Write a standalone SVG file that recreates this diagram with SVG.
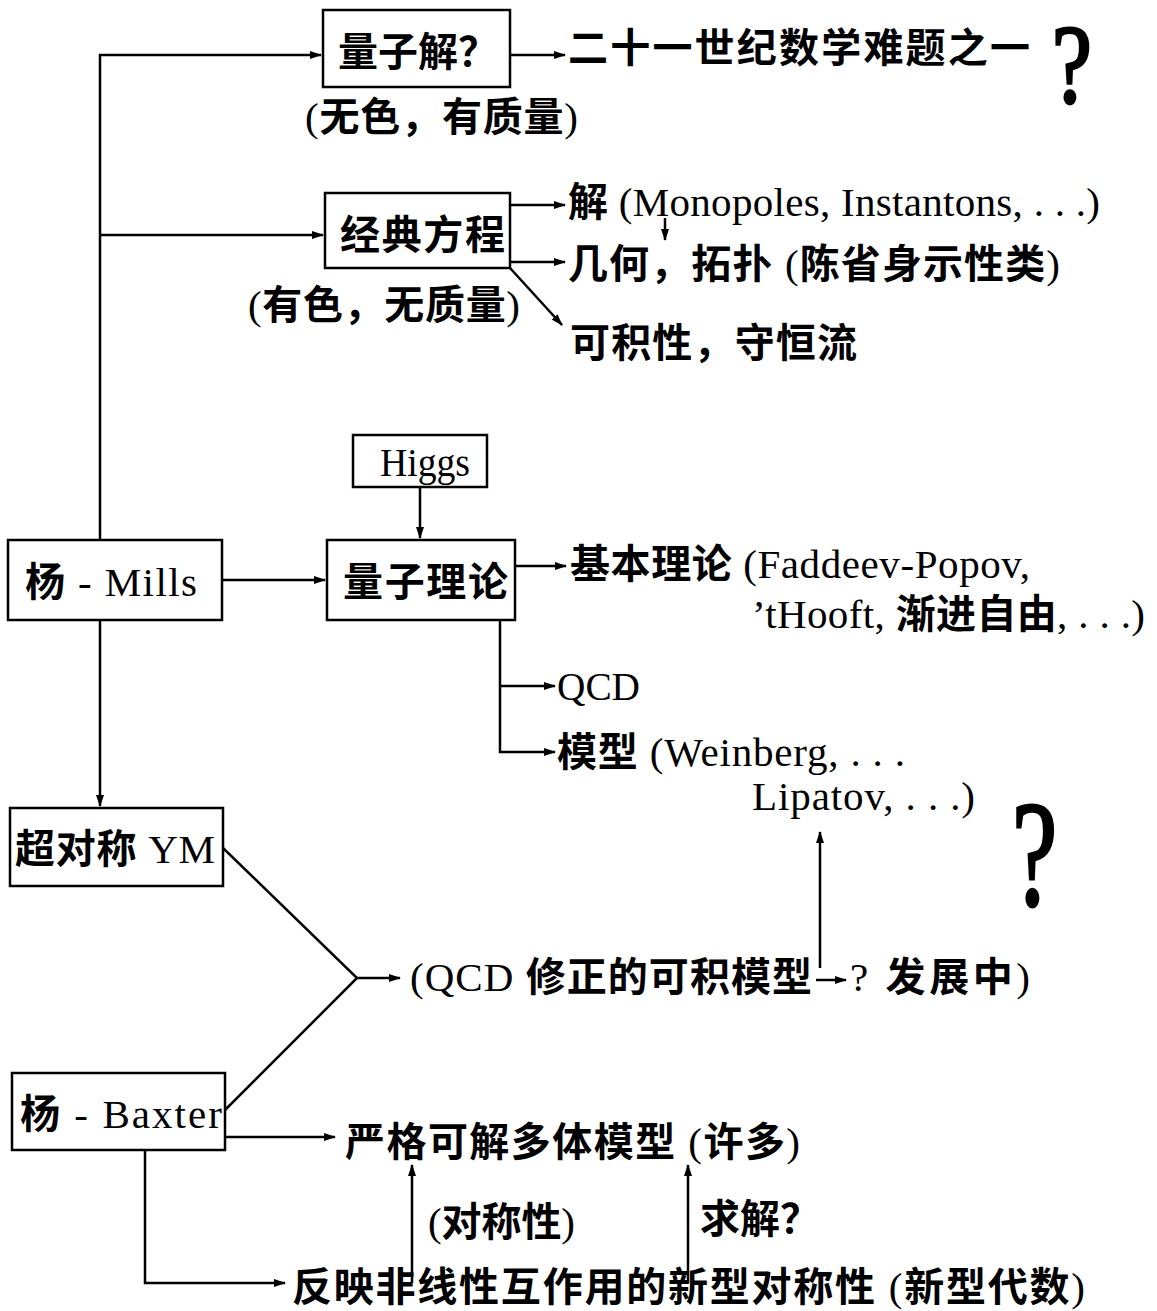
<svg xmlns="http://www.w3.org/2000/svg" width="1157" height="1311" viewBox="0 0 1157 1311">
<style>
text{font-family:"Liberation Serif","Noto Sans CJK SC",serif;font-size:41px;fill:#000}
.c{font-family:"Noto Sans CJK SC","Liberation Serif",sans-serif;font-weight:700;font-size:40px}
.box{fill:#fff;stroke:#000;stroke-width:2.5}
.ln{fill:none;stroke:#000;stroke-width:2.5}
.q{font-family:"Liberation Serif",serif;font-size:112px;stroke:#000;stroke-width:3}
.q2{font-size:150px}
</style>
<defs>
<marker id="ah" markerUnits="userSpaceOnUse" markerWidth="12" markerHeight="8" refX="11" refY="4" orient="auto">
<path d="M0,0 L12,4 L0,8 z" fill="#000"/>
</marker>
</defs>
<rect width="1157" height="1311" fill="#fff"/>
<g id="connectors">
<path class="ln" d="M100,540 L100,55 L321,55" marker-end="url(#ah)"/>
<path class="ln" d="M100,235 L323,235" marker-end="url(#ah)"/>
<path class="ln" d="M510,55 L565,55" marker-end="url(#ah)"/>
<path class="ln" d="M510,205 L565,205" marker-end="url(#ah)"/>
<path class="ln" d="M510,262 L565,262" marker-end="url(#ah)"/>
<path class="ln" d="M510,268 L562,325" marker-end="url(#ah)"/>
<path class="ln" d="M665,218 L665,240" stroke-width="2" marker-end="url(#ah)"/>
<path class="ln" d="M420,487 L420,538" marker-end="url(#ah)"/>
<path class="ln" d="M222,580 L325,580" marker-end="url(#ah)"/>
<path class="ln" d="M515,566 L566,566" marker-end="url(#ah)"/>
<path class="ln" d="M500,620 L500,752 L555,752" marker-end="url(#ah)"/>
<path class="ln" d="M500,686 L555,686" marker-end="url(#ah)"/>
<path class="ln" d="M100,620 L100,806" marker-end="url(#ah)"/>
<path class="ln" d="M223,848 L357,978 L225,1110"/>
<path class="ln" d="M357,978 L400,978" marker-end="url(#ah)"/>
<path class="ln" d="M820,968 L820,832" marker-end="url(#ah)"/>
<path class="ln" d="M816,980 L846,980" stroke-width="2" marker-end="url(#ah)"/>
<path class="ln" d="M225,1137 L335,1137" marker-end="url(#ah)"/>
<path class="ln" d="M145,1150 L145,1283 L285,1283" marker-end="url(#ah)"/>
<path class="ln" d="M412,1283 L412,1165" marker-end="url(#ah)"/>
<path class="ln" d="M688,1283 L688,1165" marker-end="url(#ah)"/>
</g>
<g id="n_quantum_sol">
<rect class="box" x="323" y="10" width="187" height="77"/>
<text class="c" x="338" y="66">量子解？</text>
</g>
<g id="n_millennium">
<text class="c" x="568" y="62" textLength="462" lengthAdjust="spacing">二十一世纪数学难题之一</text>
</g>
<g id="n_q1"><text class="q" x="0" y="102" transform="translate(1052,0) scale(0.8,1)">?</text></g>
<g id="n_colorless"><text x="305" y="131" textLength="273" lengthAdjust="spacing"><tspan>(</tspan><tspan class="c">无色，有质量</tspan><tspan>)</tspan></text></g>
<g id="n_classical">
<rect class="box" x="325" y="193" width="185" height="75"/>
<text class="c" x="340" y="249" textLength="165" lengthAdjust="spacing">经典方程</text>
</g>
<g id="n_solutions"><text x="568" y="216" textLength="532" lengthAdjust="spacing"><tspan class="c">解</tspan><tspan> (Monopoles, Instantons, . . .)</tspan></text></g>
<g id="n_geometry"><text x="568" y="278" textLength="492" lengthAdjust="spacing"><tspan class="c">几何，拓扑</tspan><tspan> (</tspan><tspan class="c">陈省身示性类</tspan><tspan>)</tspan></text></g>
<g id="n_colored"><text x="248" y="319" textLength="272" lengthAdjust="spacing"><tspan>(</tspan><tspan class="c">有色，无质量</tspan><tspan>)</tspan></text></g>
<g id="n_integrable"><text class="c" x="570" y="357" textLength="287" lengthAdjust="spacing">可积性，守恒流</text></g>
<g id="n_higgs">
<rect class="box" x="353" y="435" width="134" height="52"/>
<text x="380" y="476" font-size="38" textLength="90" lengthAdjust="spacingAndGlyphs">Higgs</text>
</g>
<g id="n_yang_mills">
<rect class="box" x="8" y="540" width="214" height="80"/>
<text x="25" y="596" textLength="172" lengthAdjust="spacing"><tspan class="c">杨</tspan><tspan> -  Mills</tspan></text>
</g>
<g id="n_quantum_theory">
<rect class="box" x="327" y="540" width="188" height="80"/>
<text class="c" x="343" y="596" textLength="165" lengthAdjust="spacing">量子理论</text>
</g>
<g id="n_basic"><text x="570" y="578" textLength="460" lengthAdjust="spacing"><tspan class="c">基本理论</tspan><tspan> (Faddeev-Popov,</tspan></text>
<text x="752" y="628" textLength="393" lengthAdjust="spacing"><tspan>’tHooft, </tspan><tspan class="c">渐进自由</tspan><tspan>, . . .)</tspan></text></g>
<g id="n_qcd"><text x="557" y="700" textLength="83" lengthAdjust="spacingAndGlyphs">QCD</text></g>
<g id="n_models"><text x="557" y="766" textLength="348" lengthAdjust="spacing"><tspan class="c">模型</tspan><tspan> (Weinberg, . . .</tspan></text>
<text x="752" y="810" textLength="223" lengthAdjust="spacing">Lipatov, . . .)</text></g>
<g id="n_q2"><text class="q q2" x="0" y="905" transform="translate(1012,0) scale(0.68,1)">?</text></g>
<g id="n_susy">
<rect class="box" x="10" y="808" width="213" height="78"/>
<text x="15" y="863" textLength="200" lengthAdjust="spacing"><tspan class="c">超对称</tspan><tspan> YM</tspan></text>
</g>
<g id="n_qcd_corr"><text x="410" y="991" textLength="402" lengthAdjust="spacing"><tspan>(QCD </tspan><tspan class="c">修正的可积模型</tspan></text>
<text x="850" y="991" textLength="180" lengthAdjust="spacing"><tspan>? </tspan><tspan class="c">发展中</tspan><tspan>)</tspan></text></g>
<g id="n_yang_baxter">
<rect class="box" x="12" y="1073" width="213" height="77"/>
<text x="20" y="1128" textLength="202" lengthAdjust="spacing"><tspan class="c">杨</tspan><tspan> -  Baxter</tspan></text>
</g>
<g id="n_exact"><text x="345" y="1156" textLength="455" lengthAdjust="spacing"><tspan class="c">严格可解多体模型</tspan><tspan> (</tspan><tspan class="c">许多</tspan><tspan>)</tspan></text></g>
<g id="n_symmetry_lbl"><text x="428" y="1236" textLength="147" lengthAdjust="spacing"><tspan>(</tspan><tspan class="c">对称性</tspan><tspan>)</tspan></text></g>
<g id="n_solve_lbl"><text class="c" x="700" y="1233">求解？</text></g>
<g id="n_new_sym"><text x="292" y="1301" textLength="793" lengthAdjust="spacing"><tspan class="c">反映非线性互作用的新型对称性</tspan><tspan> (</tspan><tspan class="c">新型代数</tspan><tspan>)</tspan></text></g>
</svg>
